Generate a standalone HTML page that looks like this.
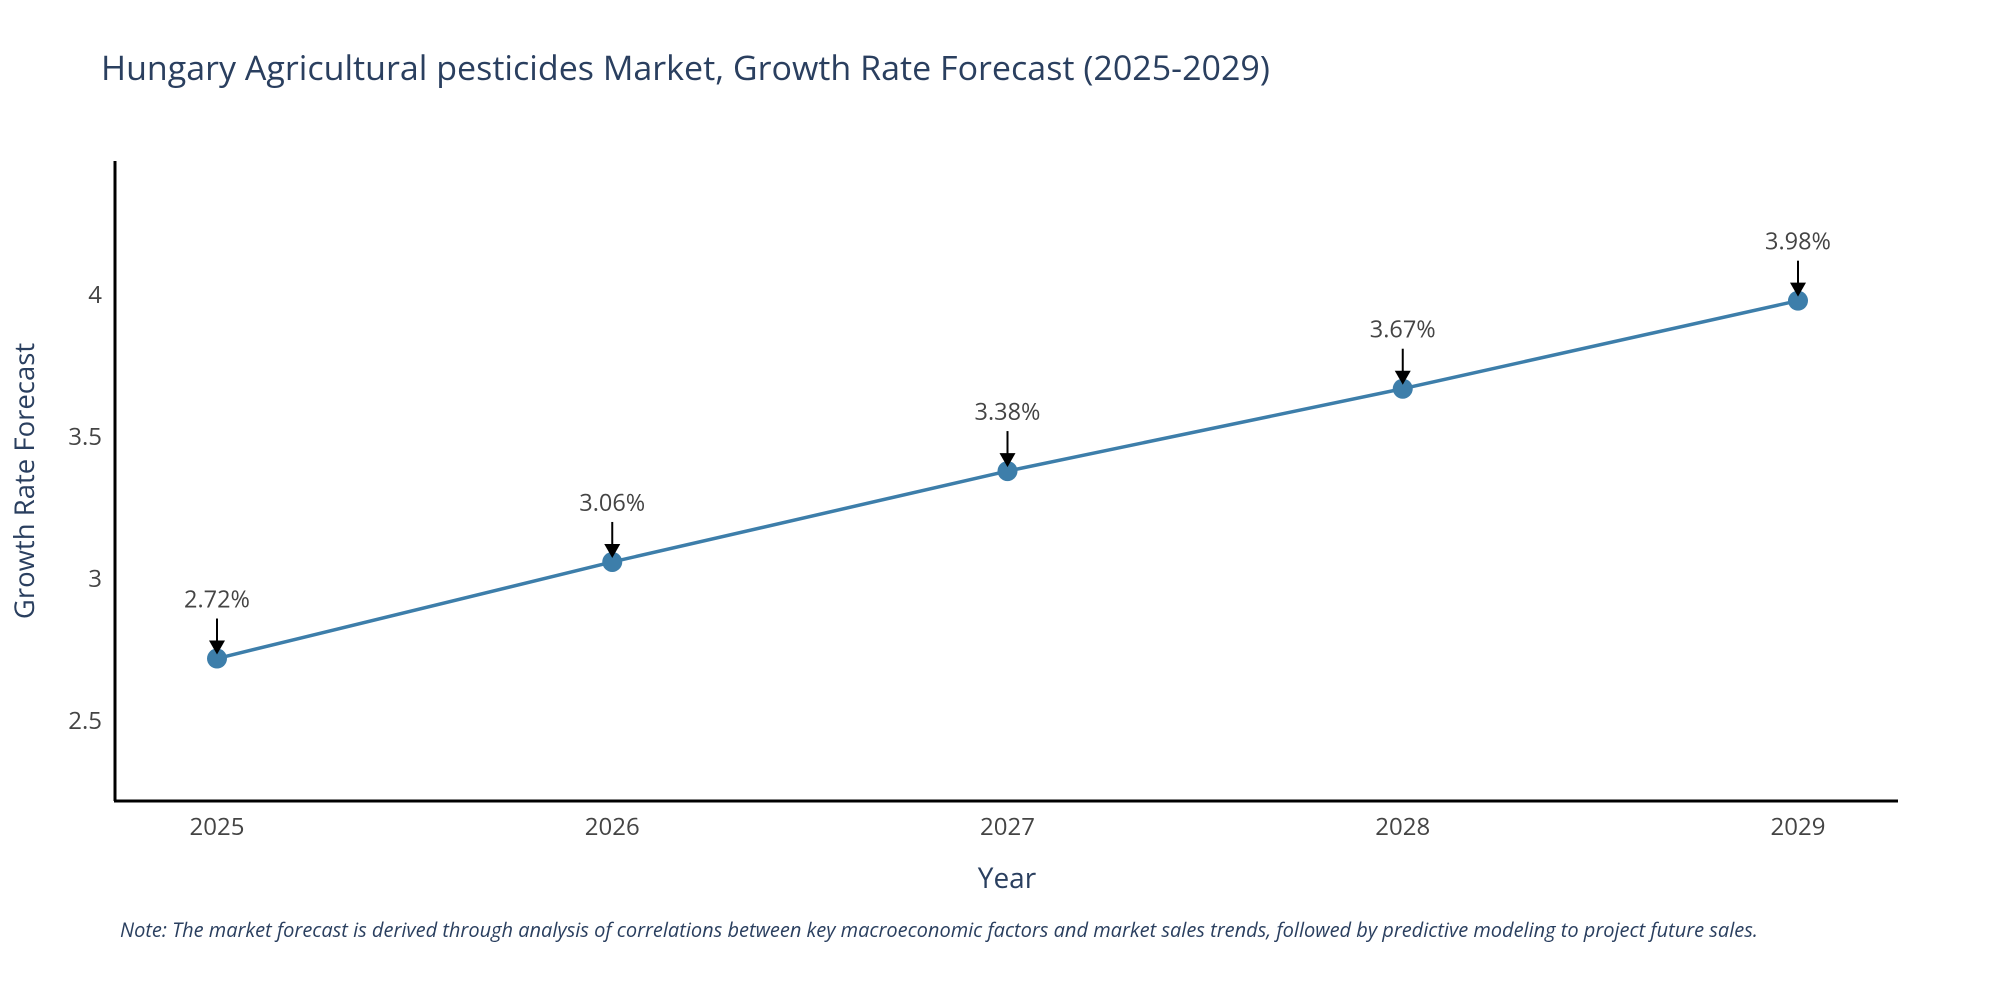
<!DOCTYPE html>
<html><head><meta charset="utf-8"><style>
body{margin:0;background:#fff;}
svg text{font-family:"Open Sans","Liberation Sans",sans-serif;}
</style></head><body>
<svg width="2000" height="1000" xmlns="http://www.w3.org/2000/svg">
<text x="101" y="80" font-size="34" fill="#2a3f5f">Hungary Agricultural pesticides Market, Growth Rate Forecast (2025-2029)</text>
<g id="plot"></g>
<text x="34" y="481" font-size="27.5" fill="#2a3f5f" text-anchor="middle" transform="rotate(-90 34 481)">Growth Rate Forecast</text>
<text x="1007" y="888" font-size="28" fill="#2a3f5f" text-anchor="middle">Year</text>
<text x="120" y="937" font-size="20" font-style="italic" fill="#2a3f5f">Note: The market forecast is derived through analysis of correlations between key macroeconomic factors and market sales trends, followed by predictive modeling to project future sales.</text>
</svg>
<script>
const years=[2025,2026,2027,2028,2029];
const values=[2.72,3.06,3.38,3.67,3.98];
const labels=["2.72%","3.06%","3.38%","3.67%","3.98%"];
const yTicks=[2.5,3,3.5,4];
const NS="http://www.w3.org/2000/svg";
const g=document.getElementById('plot');
const X=y=>217+(y-2025)*395.25;
const Y=v=>295+(4-v)*284;
function mk(t,a){const e=document.createElementNS(NS,t);for(const k in a)e.setAttribute(k,a[k]);g.appendChild(e);return e;}
let e;
e=mk('line',{x1:115,y1:161,x2:115,y2:801,stroke:'#000','stroke-width':3});


e=mk('line',{x1:114,y1:801,x2:1898,y2:801,stroke:'#000','stroke-width':3});


yTicks.forEach(t=>{e=mk('text',{x:102,y:Y(t)+8,'font-size':24,fill:'#444','text-anchor':'end'});e.textContent=String(t);

});
years.forEach(yr=>{e=mk('text',{x:X(yr),y:835,'font-size':24,fill:'#444','text-anchor':'middle'});e.textContent=String(yr);

});
e=mk('polyline',{points:years.map((y,i)=>X(y)+','+Y(values[i])).join(' '),fill:'none',stroke:'#3d7eaa','stroke-width':3.5});


years.forEach((yr,i)=>{const x=X(yr),y=Y(values[i]);
e=mk('circle',{cx:x,cy:y,r:10,fill:'#3d7eaa'});


e=mk('line',{x1:x,y1:y-40,x2:x,y2:y-14,stroke:'#000','stroke-width':2});


e=mk('polygon',{points:`${x-8},${y-18} ${x+8},${y-18} ${x},${y-4}`,fill:'#000'});


e=mk('text',{x:x,y:y-51,'font-size':23.5,fill:'#444','text-anchor':'middle'});e.textContent=labels[i];


});
</script>
</body></html>
